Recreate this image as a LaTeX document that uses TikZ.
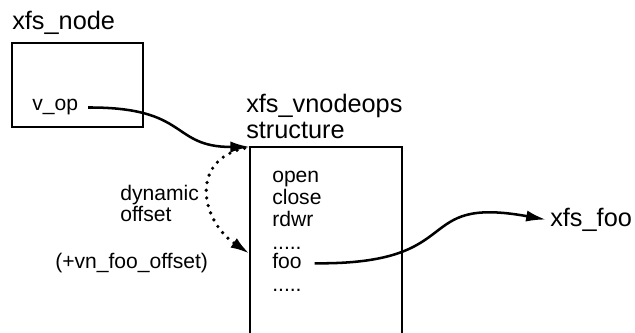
\documentclass[tikz,border=0pt]{standalone}
\usepackage{fontspec}
\setmainfont{Liberation Sans}
\usepackage{tikz}
\usetikzlibrary{arrows}
\usetikzlibrary{arrows.meta}
\newcommand{\lbltxt}{\fontsize{15pt}{13.5pt}\selectfont}
\newcommand{\hdtxt}{\fontsize{18pt}{18.5pt}\selectfont}

\begin{document}
\begin{tikzpicture}[x=0.025cm,y=-0.025cm]
\tikzstyle{every node}=[inner sep=0pt,anchor=base west,font=\lbltxt]
\tikzstyle{conn}=[line width=1.8pt,arrows={-Latex[length=14pt,width=8pt]}]
\useasboundingbox (0,0) rectangle (635,333);
\node[font=\hdtxt] (n) at (12,30) {xfs\_node};
\draw[line width=1.6pt] (12,43) rectangle (143,127);
\node (v) at (32,111) {v\_op};
\node[align=left,font=\hdtxt] (s) at (246,139) {xfs\_vnodeops\\structure};
\coordinate (c) at (250,147);
\draw[line width=1.6pt] (250,333) |- (402,147) -- (402,333);
\node (o1) at (272,183) {open};
\node (o2) at (272,205) {close};
\node (o3) at (272,227) {rdwr};
\node (o4) at (272,249) {.....};
\node (f) at (272,268) {foo};
\node (o5) at (272,291) {.....};
\coordinate (e) at (250,254);
\node[align=left] (d) at (120,222) {dynamic\\offset};
\node (p) at (55,268) {(+vn\_foo\_offset)};
\node[font=\hdtxt] (x) at (550,227) {xfs\_foo};
\draw[conn] ([xshift=7pt]v.east) .. controls (190,107) and (170,147) .. (c);
\draw[conn,line width=2.6pt,dash pattern=on 0pt off 5.5pt,line cap=round,shorten <=4pt] (c) .. controls (190,160) and (200,220) .. (e);
\draw[conn,shorten >=3pt] ([xshift=9pt,yshift=-2pt]f.east) .. controls (470,265) and (410,195) .. (x.west);
\end{tikzpicture}
\end{document}
